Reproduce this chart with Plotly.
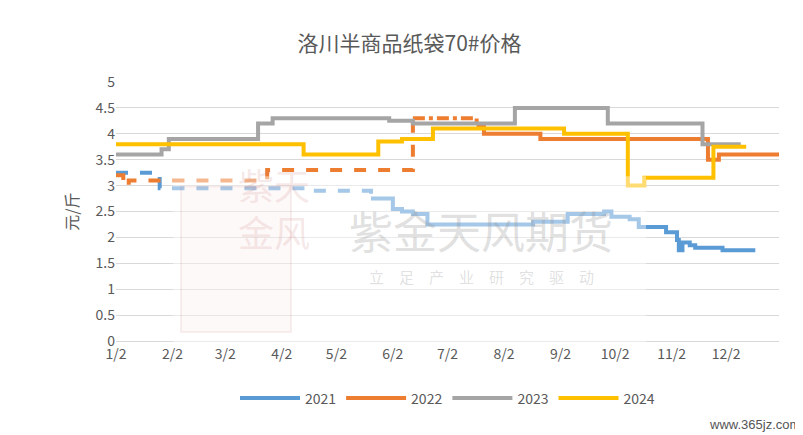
import plotly.graph_objects as go

# step dates (dummy leap year 2000) and prices
d2021 = ['2000-01-02', '2000-01-26', '2000-04-19', '2000-05-21', '2000-06-02', '2000-06-07', '2000-06-13',
         '2000-06-21', '2000-08-18', '2000-09-06', '2000-09-26', '2000-09-30', '2000-10-10', '2000-10-15',
         '2000-10-30', '2000-11-05', '2000-11-06', '2000-11-08', '2000-11-12', '2000-11-15', '2000-11-30', '2000-12-18']
v2021 = [3.25, 2.95, 2.9, 2.75, 2.55, 2.5, 2.45, 2.25, 2.3, 2.45, 2.5, 2.4, 2.35, 2.2,
         2.1, 1.95, 1.75, 1.9, 1.85, 1.8, 1.75, 1.75]
dash2021 = 3  # index where solid part begins

d2022 = ['2000-01-02', '2000-01-06', '2000-01-09', '2000-03-25', '2000-06-13', '2000-07-18', '2000-07-22',
         '2000-08-22', '2000-11-22', '2000-11-28', '2000-12-31']
v2022 = [3.2, 3.0, 3.1, 3.3, 4.3, 4.15, 4.0, 3.9, 3.5, 3.6, 3.6]
dash2022 = 4
dashdot2022 = 5

d2023 = ['2000-01-02', '2000-01-27', '2000-01-31', '2000-03-20', '2000-03-28', '2000-05-31', '2000-06-13',
         '2000-08-08', '2000-09-28', '2000-11-19', '2000-12-10']
v2023 = [3.6, 3.7, 3.9, 4.2, 4.3, 4.25, 4.2, 4.5, 4.2, 3.8, 3.8]

d2024 = ['2000-01-02', '2000-04-14', '2000-05-25', '2000-06-07', '2000-06-24', '2000-09-04', '2000-10-09',
         '2000-10-18', '2000-11-25', '2000-12-13']
v2024 = [3.8, 3.6, 3.85, 3.9, 4.1, 4.0, 3.0, 3.15, 3.75, 3.75]

months = ['2000-%02d-02' % m for m in range(1, 13)]
month_labels = ['%d/2' % m for m in range(1, 13)]

c21, c22, c23, c24 = '#5B9BD5', '#ED7D31', '#A5A5A5', '#FFC000'
W = 4

fig = go.Figure()


def seg(x, y, color, dash, name, show):
    fig.add_trace(go.Scatter(x=x, y=y, mode='lines', line_shape='hv', name=name, legendgroup=name,
                             showlegend=show, line=dict(color=color, width=W, dash=dash)))


seg(d2021[:dash2021 + 1], v2021[:dash2021 + 1], c21, 'dash', '2021', False)
seg(d2021[dash2021:], v2021[dash2021:], c21, 'solid', '2021', True)
seg(d2022[:dash2022 + 1], v2022[:dash2022 + 1], c22, 'dash', '2022', False)
seg(d2022[dash2022:dashdot2022 + 1], v2022[dash2022:dashdot2022 + 1], c22, 'dashdot', '2022', False)
seg(d2022[dashdot2022:], v2022[dashdot2022:], c22, 'solid', '2022', True)
seg(d2023, v2023, c23, 'solid', '2023', True)
seg(d2024, v2024, c24, 'solid', '2024', True)

# watermark
def px(xp):
    return (xp - 115) / 663


def py(yp):
    return (339 - yp) / 258


fig.add_shape(type='rect', xref='paper', yref='paper', x0=px(172), x1=px(645), y0=py(340), y1=py(175),
              fillcolor='white', opacity=0.45, line_width=0, layer='above')
fig.add_shape(type='rect', xref='paper', yref='paper', x0=px(180), x1=px(290), y0=py(330), y1=py(185),
              fillcolor='rgba(220,150,150,0.06)', line=dict(color='rgba(200,120,120,0.12)', width=2),
              layer='above')
fig.add_annotation(xref='paper', yref='paper', x=px(235), y=py(257), text='紫天<br>金风', showarrow=False,
                   font=dict(size=36, color='rgba(200,120,120,0.18)', family='Noto Sans CJK SC'))
fig.add_annotation(xref='paper', yref='paper', x=px(480), y=py(228), text='紫金天风期货', showarrow=False,
                   font=dict(size=44, color='rgba(150,150,150,0.3)', family='Noto Sans CJK SC'))
fig.add_annotation(xref='paper', yref='paper', x=px(480), y=py(287), text='立　足　产　业　研　究　驱　动',
                   showarrow=False, font=dict(size=15, color='rgba(150,150,150,0.3)', family='Noto Sans CJK SC'))
fig.add_annotation(xref='paper', yref='paper', x=1.035, y=py(422), xanchor='right', yanchor='middle',
                   text='www.365jz.com', showarrow=False, font=dict(size=13, color='#555', family='Arial'))

fig.update_layout(
    width=803, height=435,
    margin=dict(l=108, r=32, t=74, b=102),
    paper_bgcolor='white', plot_bgcolor='white',
    title=dict(text='洛川半商品纸袋70#价格', x=0.5, y=0.935, xanchor='center',
               font=dict(size=21, color='#595959', family='Noto Sans CJK SC')),
    font=dict(family='Noto Sans CJK SC', size=14, color='#595959'),
    showlegend=True,
    legend=dict(orientation='h', x=0.5, xanchor='center', y=-0.16, yanchor='top',
                font=dict(size=14, color='#595959'), itemwidth=60),
    xaxis=dict(type='date', range=['2000-01-02', '2000-12-31'], tickvals=months, ticktext=month_labels,
               showgrid=False, showline=True, linecolor='#D9D9D9', ticks='', tickfont=dict(size=14)),
    yaxis=dict(range=[0, 5], dtick=0.5, showgrid=True, gridcolor='#D9D9D9', zeroline=False,
               tickfont=dict(size=14), title=dict(text='元/斤', font=dict(size=16), standoff=12)),
)

fig.write_html('out.html')
